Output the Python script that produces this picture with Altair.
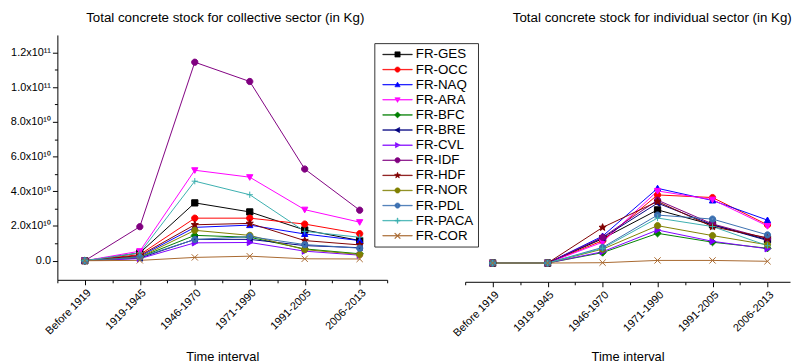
import math
import altair as alt
import pandas as pd

FONT = "Liberation Sans"

periods = ["Before 1919", "1919-1945", "1946-1970", "1971-1990", "1991-2005", "2006-2013"]
regions = ["FR-GES", "FR-OCC", "FR-NAQ", "FR-ARA", "FR-BFC", "FR-BRE", "FR-CVL",
           "FR-IDF", "FR-HDF", "FR-NOR", "FR-PDL", "FR-PACA", "FR-COR"]
region_colors = ["#000000", "#FF0000", "#0000FF", "#FF00FF", "#008000", "#000080", "#8000FF",
                 "#800080", "#800000", "#808000", "#3A6FB0", "#3AAFAF", "#A8682E"]
marker_kinds = ["square", "circle", "triangle-up", "triangle-down", "diamond", "triangle-left",
                "triangle-right", "circle", "star", "circle", "circle-dot", "plus", "x"]

# Collective sector, values in units of 1e10 kg
coll_GES = [0, 0.45, 3.33, 2.81, 1.77, 1.16]
coll_OCC = [0, 0.35, 2.45, 2.45, 2.11, 1.56]
coll_NAQ = [0, 0.25, 1.92, 2.05, 1.54, 1.16]
coll_ARA = [0, 0.55, 5.21, 4.81, 2.94, 2.22]
coll_BFC = [0, 0.20, 1.46, 1.35, 0.68, 0.40]
coll_BRE = [0, 0.15, 1.23, 1.23, 0.87, 0.75]
coll_CVL = [0, 0.12, 1.03, 1.05, 0.55, 0.32]
coll_IDF = [0, 1.96, 11.43, 10.32, 5.28, 2.91]
coll_HDF = [0, 0.30, 2.07, 2.15, 1.16, 0.91]
coll_NOR = [0, 0.20, 1.75, 1.46, 0.64, 0.36]
coll_PDL = [0, 0.20, 1.22, 1.39, 0.93, 0.72]
coll_PACA = [0, 0.45, 4.58, 3.80, 1.69, 1.35]
coll_COR = [0, 0.02, 0.19, 0.26, 0.11, 0.10]

# Individual sector, values in units of 1e10 kg
ind_GES = [0, 0, 1.40, 3.06, 2.20, 1.35]
ind_OCC = [0, 0, 1.29, 3.92, 3.77, 2.20]
ind_NAQ = [0, 0, 1.55, 4.30, 3.60, 2.47]
ind_ARA = [0, 0, 1.20, 4.15, 3.65, 2.13]
ind_BFC = [0, 0, 0.60, 1.71, 1.20, 0.85]
ind_BRE = [0, 0, 1.45, 3.45, 2.20, 1.30]
ind_CVL = [0, 0, 0.65, 1.90, 1.25, 0.82]
ind_IDF = [0, 0, 1.48, 3.62, 2.25, 1.40]
ind_HDF = [0, 0, 2.05, 3.54, 2.09, 1.45]
ind_NOR = [0, 0, 0.80, 2.15, 1.58, 1.05]
ind_PDL = [0, 0, 0.90, 2.76, 2.53, 1.62]
ind_PACA = [0, 0, 0.85, 2.59, 2.10, 1.00]
ind_COR = [0, 0, 0.02, 0.15, 0.15, 0.10]

y_tick_values = [0, 20000000000, 40000000000, 60000000000, 80000000000, 100000000000, 120000000000]
y_tick_labels = ["0.0", "2.0x10\u00b9\u2070", "4.0x10\u00b9\u2070", "6.0x10\u00b9\u2070",
                 "8.0x10\u00b9\u2070", "1.0x10\u00b9\u00b9", "1.2x10\u00b9\u00b9"]

TITLE_LEFT = "Total concrete stock for collective sector (in Kg)"
TITLE_RIGHT = "Total concrete stock for individual sector (in Kg)"
X_TITLE = "Time interval"

coll_lists = [coll_GES, coll_OCC, coll_NAQ, coll_ARA, coll_BFC, coll_BRE, coll_CVL,
              coll_IDF, coll_HDF, coll_NOR, coll_PDL, coll_PACA, coll_COR]
ind_lists = [ind_GES, ind_OCC, ind_NAQ, ind_ARA, ind_BFC, ind_BRE, ind_CVL,
             ind_IDF, ind_HDF, ind_NOR, ind_PDL, ind_PACA, ind_COR]


def long_df(lists):
    rows = []
    for k, (reg, vals) in enumerate(zip(regions, lists)):
        for i, v in enumerate(vals):
            rows.append({"region": reg, "idx": i, "period": periods[i],
                         "value": v * 1e10, "order": k})
    return pd.DataFrame(rows)


def f(v):
    return f"{v:.3f}".rstrip("0").rstrip(".")


def circle_path(r, sweep=1):
    return (f"M{f(r)},0A{f(r)},{f(r)},0,1,{sweep},{f(-r)},0"
            f"A{f(r)},{f(r)},0,1,{sweep},{f(r)},0Z")


def marker_path(kind, r, thin=0.0):
    """SVG path in symbol unit coordinates, centered at 0."""
    if kind == "square":
        return f"M{f(-r)},{f(-r)}H{f(r)}V{f(r)}H{f(-r)}Z"
    if kind == "circle":
        return circle_path(r)
    if kind == "circle-dot":
        return circle_path(r) + circle_path(0.3 * r, 0)
    if kind == "triangle-up":
        return f"M0,{f(-r)}L{f(r)},{f(0.8*r)}L{f(-r)},{f(0.8*r)}Z"
    if kind == "triangle-down":
        return f"M0,{f(r)}L{f(r)},{f(-0.8*r)}L{f(-r)},{f(-0.8*r)}Z"
    if kind == "triangle-left":
        return f"M{f(-r)},0L{f(0.8*r)},{f(-r)}L{f(0.8*r)},{f(r)}Z"
    if kind == "triangle-right":
        return f"M{f(r)},0L{f(-0.8*r)},{f(-r)}L{f(-0.8*r)},{f(r)}Z"
    if kind == "diamond":
        return f"M0,{f(-1.15*r)}L{f(1.15*r)},0L0,{f(1.15*r)}L{f(-1.15*r)},0Z"
    if kind == "star":
        pts = []
        for j in range(10):
            rad = 1.2 * r if j % 2 == 0 else 0.5 * r
            a = -math.pi / 2 + j * math.pi / 5
            pts.append((rad * math.cos(a), rad * math.sin(a)))
        return "M" + "L".join(f"{f(x)},{f(y)}" for x, y in pts) + "Z"
    if kind == "plus":
        if thin:
            return (f"M{f(-r)},{f(-thin)}H{f(r)}V{f(thin)}H{f(-r)}Z"
                    f"M{f(-thin)},{f(-r)}H{f(thin)}V{f(r)}H{f(-thin)}Z")
        return f"M{f(-r)},0H{f(r)}M0,{f(-r)}V{f(r)}"
    if kind == "x":
        if thin:
            d = thin * 0.7071
            return (f"M{f(-r-d)},{f(-r+d)}L{f(r-d)},{f(r+d)}L{f(r+d)},{f(r-d)}L{f(-r+d)},{f(-r-d)}Z"
                    f"M{f(r-d)},{f(-r-d)}L{f(r+d)},{f(-r+d)}L{f(-r+d)},{f(r+d)}L{f(-r-d)},{f(r-d)}Z")
        return f"M{f(-r)},{f(-r)}L{f(r)},{f(r)}M{f(-r)},{f(r)}L{f(r)},{f(-r)}"
    return ""


chart_shapes = [marker_path(k, 1.0) for k in marker_kinds]
LEG_HALF_LINE = 2.14      # legend line half length (symbol units, 7 px each)
legend_shapes = [
    f"M{f(-LEG_HALF_LINE)},-0.035H{f(LEG_HALF_LINE)}V0.035H{f(-LEG_HALF_LINE)}Z"
    + marker_path(k, 0.38, thin=0.05)
    for k in marker_kinds
]

color_scale = alt.Scale(domain=regions, range=region_colors)
shape_scale = alt.Scale(domain=regions, range=chart_shapes)

x_values = [i / 2 for i in range(-1, 12)]
x_label_expr = ("datum.value % 1 == 0 && datum.value >= 0 ? "
                + "[" + ",".join("'" + p + "'" for p in periods) + "][datum.value] : ''")
tick_cond_x = {"condition": {"test": "datum.value % 1 == 0", "value": 5}, "value": 3}


def x_axis(values, title_pad):
    return alt.Axis(values=values, labelExpr=x_label_expr, labelAngle=-45, labelFontSize=11,
                    tickSize=tick_cond_x, labelPadding=2, title=X_TITLE, titleFontSize=13,
                    titlePadding=title_pad, grid=False, domainColor="#000", tickColor="#000",
                    labelColor="#000", titleColor="#000", labelFont=FONT, titleFont=FONT,
                    titleFontWeight="normal", labelFlush=False, labelOverlap=False)


y_label_expr = " : ".join(f"datum.value == {v} ? '{t}'" for v, t in zip(y_tick_values, y_tick_labels)) + " : ''"
y_all_ticks = [i * 10000000000 for i in range(0, 13)]
tick_cond_y = {"condition": {"test": "datum.value % 20000000000 == 0", "value": 5}, "value": 3}

PLOT_H = 248
LEFT_W = 334
RIGHT_W = 329


def panel(df, title, width, height, x_domain, x_vals, y_domain, y_axis, title_pad, title_dx=0):
    base = alt.Chart(df)
    x = alt.X("idx:Q", scale=alt.Scale(domain=x_domain, nice=False, zero=False),
              axis=x_axis(x_vals, title_pad))
    y = alt.Y("value:Q", scale=alt.Scale(domain=y_domain, nice=False, zero=False), axis=y_axis)
    lines = base.mark_line(strokeWidth=1).encode(
        x=x, y=y,
        color=alt.Color("region:N", scale=color_scale, legend=None),
        detail="region:N",
        order="idx:Q",
    )
    pts = base.mark_point(filled=True, size=40, strokeWidth=1, opacity=1).encode(
        x=x, y=y,
        fill=alt.Fill("region:N", scale=color_scale, legend=None),
        stroke=alt.Stroke("region:N", scale=color_scale, legend=None),
        shape=alt.Shape("region:N", scale=shape_scale, legend=None),
    )
    return alt.layer(lines, pts).properties(
        width=width, height=height,
        title=alt.TitleParams(title, fontSize=13.5, font=FONT, fontWeight="normal", color="#000",
                              offset=11, dx=title_dx),
    )


left_axis_y = alt.Axis(values=y_all_ticks, labelExpr=y_label_expr, tickSize=tick_cond_y,
                       labelFontSize=11, labelPadding=2, title=None, grid=False,
                       domainColor="#000", tickColor="#000", labelColor="#000", labelFont=FONT)

left = panel(long_df(coll_lists), TITLE_LEFT, LEFT_W, PLOT_H, [-0.5, 5.5], x_values,
             [-1.1e10, 1.3e11], left_axis_y, 15, title_dx=3)
right = panel(long_df(ind_lists), TITLE_RIGHT, RIGHT_W, PLOT_H + 2, [-0.5, 5.41],
              [v for v in x_values if v <= 5.41], [-1.08e10, 1.313e11], None, 13, title_dx=25)

leg_params = alt.Legend(
    title=None, orient="none", legendX=-52, legendY=8.3, padding=4, rowPadding=1.3,
    labelFontSize=13.5, labelFont=FONT, labelColor="#000", symbolOffset=12, labelOffset=11,
    strokeColor="#333", fillColor="#ffffff", symbolStrokeWidth=0.6, symbolSize=196,
    symbolOpacity=1,
)
legend_view = alt.Chart(pd.DataFrame({"region": regions})).mark_point(
    filled=True, size=196
).encode(
    fill=alt.Fill("region:N", scale=alt.Scale(domain=regions, range=region_colors), legend=leg_params),
    stroke=alt.Stroke("region:N", scale=alt.Scale(domain=regions, range=region_colors), legend=leg_params),
    shape=alt.Shape("region:N", scale=alt.Scale(domain=regions, range=legend_shapes), legend=leg_params),
    opacity=alt.value(0),
).properties(width=1, height=PLOT_H)

chart = alt.hconcat(left, legend_view, right, spacing=39, bounds="flush").resolve_scale(
    color="independent", fill="independent", stroke="independent", shape="independent",
).resolve_legend(
    color="independent", fill="independent", stroke="independent", shape="independent",
).properties(
    padding={"left": 2, "top": 0, "right": 0, "bottom": 0}
).configure_view(stroke=None)

chart.save("out.html", embed_options={"renderer": "svg", "actions": False})
